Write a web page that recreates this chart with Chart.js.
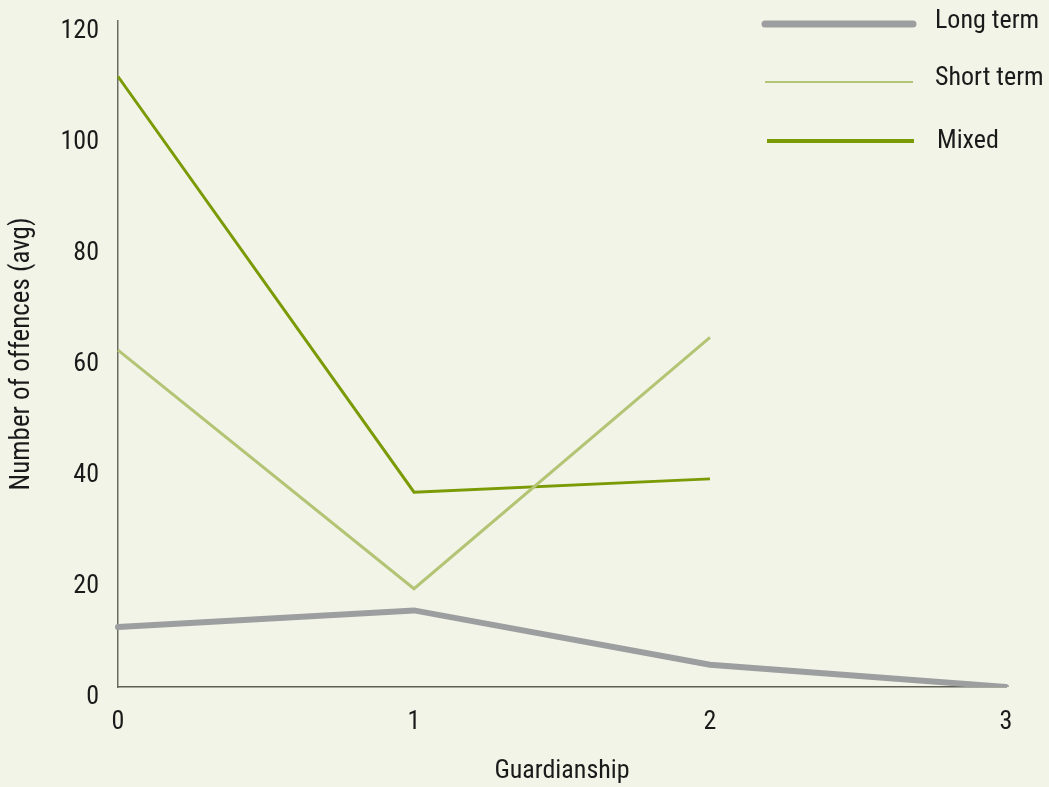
<!DOCTYPE html>
<html>
<head>
<meta charset="utf-8">
<script src="https://cdn.jsdelivr.net/npm/chart.js@4/dist/chart.umd.min.js"></script>
<style>
  html, body { margin: 0; padding: 0; background: #f2f4e7; }
  #wrap { width: 1049px; height: 787px; }
</style>
</head>
<body>
<div id="wrap"><canvas id="chart" width="1049" height="787"></canvas></div>
<script>
// data
const guardianship = ["0", "1", "2", "3"];
const longTerm = [10.8, 13.8, 4.0, 0];
const shortTerm = [60.7, 17.7, 63.0];
const mixed = [110.0, 35.1, 37.5];

const FONT = '"Liberation Sans Narrow", "Roboto Condensed", "DejaVu Sans Condensed", sans-serif';

// legend drawn as plain lines + labels at top right
const lineLegend = {
    id: "lineLegend",
    afterDraw(chart) {
        const ctx = chart.ctx;
        const rows = [
            { y: 24, x0: 765, x1: 913, tx: 935, ty: 21 },
            { y: 82, x0: 765, x1: 913, tx: 935, ty: 78 },
            { y: 141, x0: 767, x1: 914, tx: 937, ty: 141 }
        ];
        chart.data.datasets.forEach((ds, i) => {
            const r = rows[i];
            ctx.save();
            ctx.strokeStyle = ds.borderColor;
            ctx.lineWidth = ds.legendWidth;
            ctx.lineCap = ds.borderCapStyle || "butt";
            ctx.beginPath();
            ctx.moveTo(r.x0, r.y);
            ctx.lineTo(r.x1, r.y);
            ctx.stroke();
            ctx.fillStyle = "#1a1a1a";
            ctx.font = "26px " + FONT;
            ctx.textBaseline = "middle";
            ctx.fillText(ds.label, r.tx, r.ty);
            ctx.restore();
        });
    }
};

new Chart(document.getElementById("chart"), {
    type: "line",
    data: {
        labels: guardianship,
        datasets: [
            {
                label: "Long term",
                data: longTerm,
                borderColor: "#9d9ea0",
                borderWidth: 6,
                legendWidth: 7,
                borderCapStyle: "round",
                pointRadius: 0
            },
            {
                label: "Short term",
                data: shortTerm,
                borderColor: "#b3c474",
                borderWidth: 3,
                legendWidth: 2,
                pointRadius: 0
            },
            {
                label: "Mixed",
                data: mixed,
                borderColor: "#7a9a06",
                borderWidth: 3,
                legendWidth: 4,
                pointRadius: 0
            }
        ]
    },
    options: {
        responsive: false,
        animation: false,
        layout: { padding: { top: 21, right: 43, left: 0, bottom: 0 } },
        plugins: {
            legend: { display: false },
            tooltip: { enabled: false }
        },
        scales: {
            x: {
                type: "category",
                offset: false,
                grid: { display: false, drawTicks: false },
                border: { display: true, color: "#5e5e55", width: 1.5 },
                ticks: {
                    color: "#1a1a1a",
                    font: { family: FONT, size: 26 },
                    padding: 20,
                    maxRotation: 0
                },
                title: {
                    display: true,
                    text: "Guardianship",
                    color: "#1a1a1a",
                    font: { family: FONT, size: 26 },
                    padding: { top: 12, bottom: 0 }
                },
                afterFit(scale) { scale.height = 100; }
            },
            y: {
                min: 0,
                max: 120,
                grid: { display: false, drawTicks: false },
                border: { display: true, color: "#6b6b60", width: 1.5 },
                ticks: {
                    stepSize: 20,
                    color: "#1a1a1a",
                    font: { family: FONT, size: 26 },
                    padding: 19,
                    labelOffset: 10
                },
                title: {
                    display: true,
                    text: "Number of offences (avg)",
                    color: "#1a1a1a",
                    font: { family: FONT, size: 27 },
                    padding: { top: 6, bottom: 0 }
                },
                afterFit(scale) {
                    scale.width = 118;
                    scale.paddingTop = 0;
                    scale.paddingBottom = 0;
                }
            }
        }
    },
    plugins: [lineLegend]
});
</script>
</body>
</html>
